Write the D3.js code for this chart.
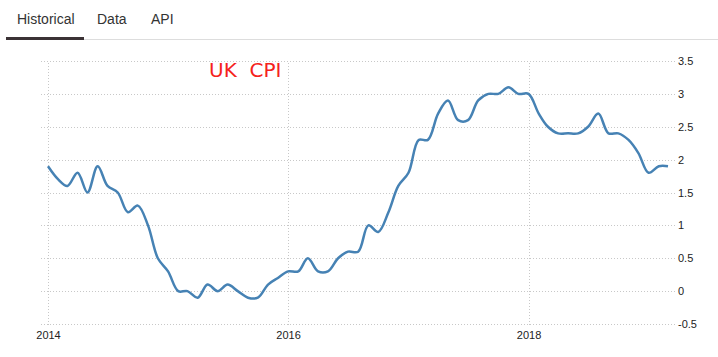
<!DOCTYPE html>
<html>
<head>
<meta charset="utf-8">
<script src="https://cdn.jsdelivr.net/npm/d3@7"></script>
<style>
  body { margin: 0; background: #fff; }
  .grid line { stroke: #c8c8c8; stroke-dasharray: 1,2; }
  .grid path { display: none; }
  .grid text { font-family: "Liberation Sans", Arial, sans-serif; font-size: 11px; fill: #222; }
  .tab { font-family: "Liberation Sans", Arial, sans-serif; font-size: 14px; fill: #333; }
</style>
</head>
<body>
<svg width="718" height="357"></svg>
<script>
// monthly UK CPI, % y/y
let cpi2014 = [1.9, 1.7, 1.6, 1.8, 1.5, 1.9, 1.6, 1.5, 1.2, 1.3, 1.0, 0.5];
let cpi2015 = [0.3, 0.0, 0.0, -0.1, 0.1, 0.0, 0.1, 0.0, -0.1, -0.1, 0.1, 0.2];
let cpi2016 = [0.3, 0.3, 0.5, 0.3, 0.3, 0.5, 0.6, 0.6, 1.0, 0.9, 1.2, 1.6];
let cpi2017 = [1.8, 2.3, 2.3, 2.7, 2.9, 2.6, 2.6, 2.9, 3.0, 3.0, 3.1, 3.0];
let cpi2018 = [3.0, 2.7, 2.5, 2.4, 2.4, 2.4, 2.5, 2.7, 2.4, 2.4, 2.3, 2.1];
let cpi2019 = [1.8, 1.9, 1.9];

let years = [2014, 2015, 2016, 2017, 2018, 2019];
let yearValues = [cpi2014, cpi2015, cpi2016, cpi2017, cpi2018, cpi2019];
let xTicks = [2014, 2016, 2018];
let yTicks = [-0.5, 0, 0.5, 1, 1.5, 2, 2.5, 3, 3.5];
let tabs = ["Historical", "Data", "API"];

let data = [];
years.forEach((yr, i) => {
  yearValues[i].forEach((v, m) => data.push({ date: new Date(yr, m, 1), value: v }));
});

let svg = d3.select("svg");

// tabs header
let tabX = [17, 97, 151];
svg.selectAll(".tab")
  .data(tabs)
  .enter()
  .append("text")
  .attr("class", "tab")
  .attr("x", (d, i) => tabX[i])
  .attr("y", 24)
  .text(d => d);

svg.append("line")
  .attr("x1", 6).attr("x2", 718)
  .attr("y1", 39.5).attr("y2", 39.5)
  .style("stroke", "#ddd");

svg.append("rect")
  .attr("x", 6).attr("y", 37)
  .attr("width", 78).attr("height", 3)
  .style("fill", "#3b3235");

let plot = { left: 39, right: 675, top: 61, bottom: 324 };

let x = d3.scaleTime()
  .domain([new Date(2014, 0, 1), new Date(2019, 2, 1)])
  .range([48, 668]);

let y = d3.scaleLinear()
  .domain([-0.5, 3.5])
  .range([plot.bottom, plot.top]);

svg.append("g")
  .attr("class", "grid")
  .attr("transform", "translate(0," + (plot.bottom + 1) + ")")
  .call(d3.axisBottom(x)
    .tickValues(xTicks.map(t => new Date(t, 0, 1)))
    .tickFormat(d3.timeFormat("%Y"))
    .tickSize(-(plot.bottom + 1 - plot.top))
    .tickPadding(6));

svg.append("g")
  .attr("class", "grid")
  .attr("transform", "translate(" + plot.right + ",0)")
  .call(d3.axisRight(y)
    .tickValues(yTicks)
    .tickFormat(d => d)
    .tickSize(-(plot.right - plot.left))
    .tickPadding(3));

svg.selectAll(".grid .tick line").attr("shape-rendering", "crispEdges");

svg.append("text")
  .attr("x", 209)
  .attr("y", 77)
  .style("font-family", "DejaVu Sans, sans-serif")
  .style("font-size", "20px")
  .style("fill", "#f5221c")
  .style("white-space", "pre")
  .text("UK  CPI");

let line = d3.line()
  .x(d => x(d.date))
  .y(d => y(d.value))
  .curve(d3.curveCatmullRom.alpha(0.5));

svg.append("path")
  .datum(data)
  .attr("d", line)
  .style("fill", "none")
  .style("stroke", "#4682b4")
  .style("stroke-width", 2.5);
</script>
</body>
</html>
